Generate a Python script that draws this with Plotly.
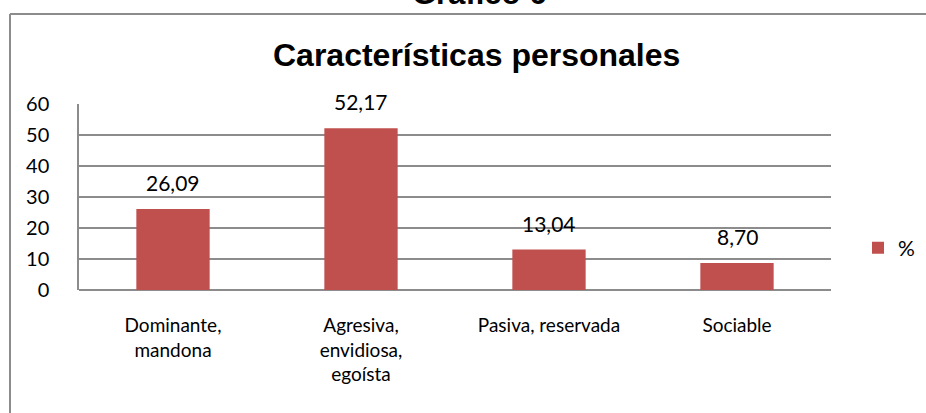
import plotly.graph_objects as go

categorias = ["Dominante,<br>mandona", "Agresiva,<br>envidiosa,<br>egoísta", "Pasiva, reservada", "Sociable"]
porcentajes = [26.09, 52.17, 13.04, 8.70]
etiquetas = [f"{v:.2f}".replace(".", ",") for v in porcentajes]
ticks_y = [0, 10, 20, 30, 40, 50, 60]

W, H = 926, 413
L, R, T, B = 79, 831, 104, 290  # plot area in px


def px_x(x):
    return (x - L) / (R - L)


def px_y(y):
    return (B - y) / (B - T)


fig = go.Figure(go.Bar(
    x=categorias, y=porcentajes, name="%",
    marker=dict(color="#C0504D", line=dict(width=0)),
))

# value labels sit a bit higher above the bars than plotly's "outside" text
for c, v, t in zip(categorias, porcentajes, etiquetas):
    fig.add_annotation(x=c, y=v, text=t, showarrow=False, yanchor="bottom", yshift=12,
                       font=dict(family="Lato, Carlito, sans-serif", size=21, color="#000000"))

fig.add_annotation(text="<b>Características personales</b>", x=px_x(476), y=px_y(55),
                   xref="paper", yref="paper", xanchor="center", yanchor="middle", showarrow=False,
                   font=dict(family="Arial, Liberation Sans", size=32, color="#000000"))
fig.add_annotation(text="<b>Gráfico 6</b>", x=px_x(479), y=px_y(13),
                   xref="paper", yref="paper", xanchor="center", yanchor="bottom", showarrow=False,
                   font=dict(family="Arial, Liberation Sans", size=31, color="#000000"))

fig.update_layout(
    width=W, height=H,
    margin=dict(l=L, r=W - R, t=T, b=H - B, pad=0, autoexpand=False),
    paper_bgcolor="white", plot_bgcolor="white",
    bargap=0.61,
    showlegend=True,
    legend=dict(x=px_x(858), y=px_y(248), xanchor="left", yanchor="middle",
                font=dict(family="Lato, Carlito, sans-serif", size=21, color="#000000"),
                bgcolor="rgba(0,0,0,0)"),
    font=dict(family="Lato, Carlito, sans-serif", size=19, color="#000000"),
    shapes=[
        dict(type="line", xref="paper", yref="paper",
             x0=px_x(10), x1=px_x(10), y0=px_y(413), y1=px_y(14),
             line=dict(color="#8c8c8c", width=2), layer="below"),
        dict(type="line", xref="paper", yref="paper",
             x0=px_x(10), x1=px_x(926), y0=px_y(14), y1=px_y(14),
             line=dict(color="#8c8c8c", width=2), layer="below"),
    ],
)

fig.update_yaxes(range=[0, 60], tickvals=ticks_y, showgrid=True, gridcolor="#8c8c8c", gridwidth=1.5,
                 showline=True, linecolor="#8c8c8c", linewidth=1.5, ticks="",
                 zeroline=True, zerolinecolor="#8c8c8c", zerolinewidth=1.5,
                 ticklabelstandoff=24, tickfont=dict(size=20))
fig.update_xaxes(showline=False, ticks="", showgrid=False, tickfont=dict(size=19), ticklabelstandoff=22)

fig.write_html("out.html", config={"displayModeBar": False},
               post_script="document.body.style.margin='0';")
